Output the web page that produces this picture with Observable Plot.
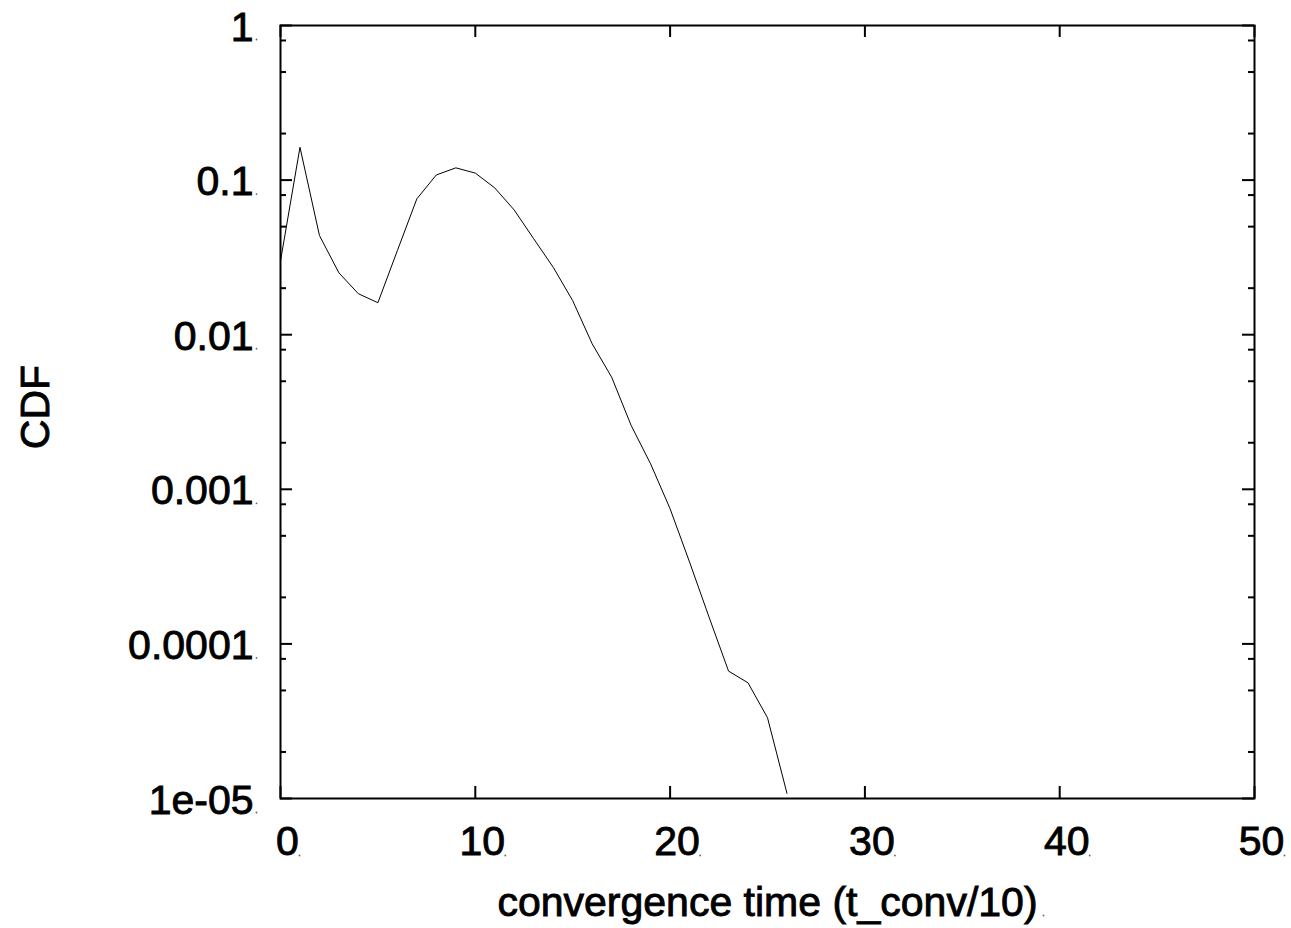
<!DOCTYPE html>
<html>
<head>
<meta charset="utf-8">
<script src="https://cdn.jsdelivr.net/npm/d3@7"></script>
<script src="https://cdn.jsdelivr.net/npm/@observablehq/plot@0.6"></script>
<style>
  html, body { margin: 0; padding: 0; background: #fff; }
  #chart { width: 1291px; height: 928px; }
  #chart svg text { stroke: #000; stroke-width: 0.9px; }
</style>
</head>
<body>
<div id="chart"></div>
<script>
// convergence time (t_conv/10) and CDF values
const times = [0, 1, 2, 3, 4, 5, 6, 7, 8, 9, 10, 11, 12, 13, 14, 15, 16, 17, 18, 19, 20, 21, 22, 23, 24, 25, 26];
const cdf = [0.030, 0.163, 0.0438, 0.0251, 0.0184, 0.0161, 0.035, 0.0757, 0.108, 0.120, 0.111, 0.089, 0.064,
             0.0417, 0.0273, 0.0166, 0.00873, 0.00531, 0.00259, 0.00146, 0.000748, 0.000338, 0.000149,
             0.0000667, 0.000056, 0.0000333, 0.0000108];

const xTicks = [0, 10, 20, 30, 40, 50];
const xTickLabels = ["0", "10", "20", "30", "40", "50"];
const yTicks = [1, 0.1, 0.01, 0.001, 0.0001, 0.00001];
const yTickLabels = ["1", "0.1", "0.01", "0.001", "0.0001", "1e-05"];
const yMinorTicks = [0.8, 0.5, 0.2, 0.08, 0.05, 0.02, 0.008, 0.005, 0.002,
                     0.0008, 0.0005, 0.0002, 0.00008, 0.00005, 0.00002];
const xTitle = "convergence time (t_conv/10)";
const yTitle = "CDF";

const data = times.map((t, i) => ({t, v: cdf[i]}));

const W = 1291, H = 928;
const mL = 280, mR = 37, mT = 25, mB = 130;
const fw = W - mL - mR, fh = H - mT - mB;
const FS = 41;

const plot = Plot.plot({
  width: W,
  height: H,
  marginLeft: mL,
  marginRight: mR,
  marginTop: mT,
  marginBottom: mB,
  style: {fontFamily: "'Liberation Sans', Arial, sans-serif", fontSize: FS + "px", background: "#fff", color: "#000"},
  x: {domain: [0, 50], label: null},
  y: {type: "log", domain: [0.00001, 1], label: null},
  marks: [
    // major y ticks (left and right, inward)
    Plot.tickY(yTicks, {y: d => d, insetRight: fw - 12, stroke: "#000", strokeWidth: 2}),
    Plot.tickY(yTicks, {y: d => d, insetLeft: fw - 12, stroke: "#000", strokeWidth: 2}),
    // minor y ticks
    Plot.tickY(yMinorTicks, {y: d => d, insetRight: fw - 6, stroke: "#000", strokeWidth: 2}),
    Plot.tickY(yMinorTicks, {y: d => d, insetLeft: fw - 6, stroke: "#000", strokeWidth: 2}),
    // x ticks (bottom and top, inward)
    Plot.tickX(xTicks, {x: d => d, insetTop: fh - 12, stroke: "#000", strokeWidth: 2}),
    Plot.tickX(xTicks, {x: d => d, insetBottom: fh - 12, stroke: "#000", strokeWidth: 2}),
    Plot.axisY({anchor: "left", ticks: yTicks, tickSize: 0, tickPadding: 27, dy: 2,
                tickFormat: d => yTickLabels[yTicks.indexOf(d)], fontSize: FS, label: null}),
    Plot.axisX({anchor: "bottom", ticks: xTicks, tickSize: 0, tickPadding: 27, dx: 7,
                tickFormat: d => xTickLabels[xTicks.indexOf(d)], fontSize: FS, label: null}),
    // tiny trailing dots after the labels
    Plot.dot(yTicks, {y: d => d, frameAnchor: "left", dx: -24, dy: 14, r: 0.9, fill: "#666", stroke: null}),
    Plot.dot(xTicks.slice(0, 1), {x: d => d, frameAnchor: "bottom", dx: 19, dy: 57, r: 0.9, fill: "#666", stroke: null}),
    Plot.dot(xTicks.slice(1), {x: d => d, frameAnchor: "bottom", dx: 30, dy: 57, r: 0.9, fill: "#666", stroke: null}),
    Plot.dot([xTitle], {frameAnchor: "bottom", dx: 276, dy: 117, r: 0.9, fill: "#666", stroke: null}),
    Plot.line(data, {x: "t", y: "v", stroke: "#000", strokeWidth: 1}),
    Plot.frame({stroke: "#000", strokeWidth: 2}),
    Plot.text([xTitle], {text: d => d, frameAnchor: "bottom", textAnchor: "middle", lineAnchor: "middle",
                         dy: 104, fontSize: FS, fill: "#000"}),
    Plot.text([yTitle], {text: d => d, frameAnchor: "left", textAnchor: "middle", lineAnchor: "middle",
                         rotate: -90, dx: -245, dy: -5, fontSize: FS, fill: "#000"})
  ]
});

document.getElementById("chart").appendChild(plot);
</script>
</body>
</html>
